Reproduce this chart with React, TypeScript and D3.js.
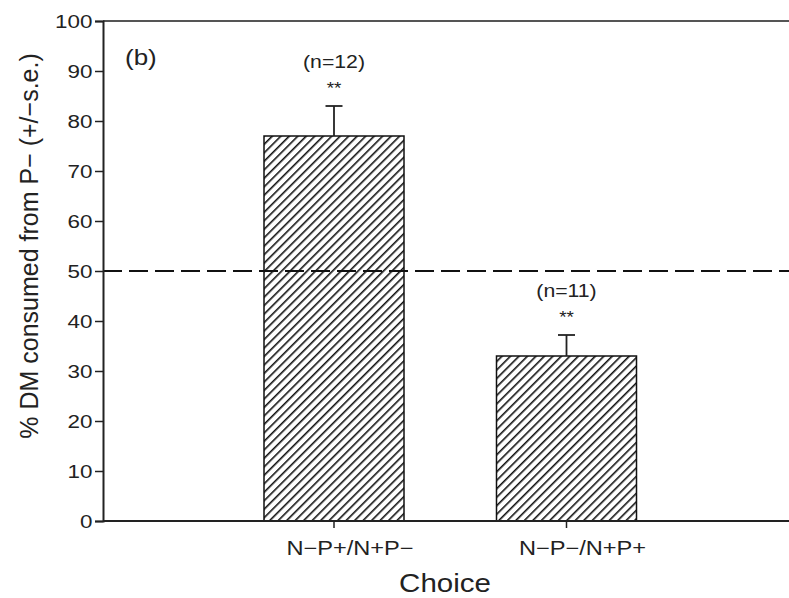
import { useRef, useEffect } from "react";
import * as d3 from "d3";

const categories = ["N\u2212P+/N+P\u2212", "N\u2212P\u2212/N+P+"];
const means = [77, 33];
const errors = [6, 4.2];
const nLabels = ["(n=12)", "(n=11)"];
const sigLabels = ["**", "**"];
const yTicks = [0, 10, 20, 30, 40, 50, 60, 70, 80, 90, 100];
const refLine = 50;

export default function App() {
  const svgRef = useRef<SVGSVGElement>(null);

  useEffect(() => {
    if (!svgRef.current) return;
    const svg = d3.select(svgRef.current);
    svg.selectAll("*").remove();

    const width = 789;
    const height = 598;
    const left = 103;
    const top = 21;
    const bottom = 521;
    const font = "Liberation Sans, Arial, sans-serif";
    const sx = 1.18; // the glyphs in the source are a bit wide

    const y = d3.scaleLinear().domain([0, 100]).range([bottom, top]);
    const x = d3.scalePoint<string>().domain(categories).range([334, 566.5]);
    const barW = 140;

    // horizontal text, widened a little
    const label = (tx: number, ty: number, txt: string, size: number, anchor = "middle") =>
      svg.append("text")
        .attr("transform", `translate(${tx},${ty}) scale(${sx},1)`)
        .attr("text-anchor", anchor)
        .attr("font-family", font)
        .attr("font-size", size)
        .attr("fill", "#222")
        .text(txt);

    const defs = svg.append("defs");
    const pat = defs.append("pattern")
      .attr("id", "hatch")
      .attr("patternUnits", "userSpaceOnUse")
      .attr("width", 6)
      .attr("height", 6)
      .attr("patternTransform", "rotate(45)");
    pat.append("rect").attr("width", 6).attr("height", 6).attr("fill", "#fff");
    pat.append("line")
      .attr("x1", 0).attr("y1", 0).attr("x2", 0).attr("y2", 6)
      .attr("stroke", "#111").attr("stroke-width", 3.2);

    svg.append("rect").attr("width", width).attr("height", height).attr("fill", "#fff");

    // bars
    svg.selectAll("rect.bar")
      .data(means)
      .join("rect")
      .attr("class", "bar")
      .attr("x", (_, i) => x(categories[i])! - barW / 2)
      .attr("y", d => y(d))
      .attr("width", barW)
      .attr("height", d => bottom - y(d))
      .attr("fill", "url(#hatch)")
      .attr("stroke", "#111")
      .attr("stroke-width", 1.5);

    // error bars + annotations
    means.forEach((m, i) => {
      const cx = x(categories[i])!;
      const yTop = y(m + errors[i]);
      svg.append("line")
        .attr("x1", cx).attr("x2", cx)
        .attr("y1", y(m)).attr("y2", yTop)
        .attr("stroke", "#222").attr("stroke-width", 1.8);
      svg.append("line")
        .attr("x1", cx - 8.5).attr("x2", cx + 8.5)
        .attr("y1", yTop).attr("y2", yTop)
        .attr("stroke", "#222").attr("stroke-width", 1.8);
      label(cx, yTop - 38, nLabels[i], 18);
      label(cx, yTop - 12, sigLabels[i], 16);
    });

    // dashed reference line
    svg.append("line")
      .attr("x1", left).attr("x2", width)
      .attr("y1", y(refLine)).attr("y2", y(refLine))
      .attr("stroke", "#111").attr("stroke-width", 2)
      .attr("stroke-dasharray", "19,7");

    // top frame line
    svg.append("line")
      .attr("x1", left).attr("x2", width)
      .attr("y1", top).attr("y2", top)
      .attr("stroke", "#555").attr("stroke-width", 2);

    // y axis
    const yAxis = svg.append("g")
      .attr("transform", `translate(${left},0)`)
      .call(d3.axisLeft(y).tickValues(yTicks).tickSize(8).tickPadding(1));
    yAxis.select(".domain").attr("stroke", "#222").attr("stroke-width", 2);
    yAxis.selectAll(".tick line").attr("stroke", "#222").attr("stroke-width", 1.5);
    yAxis.selectAll(".tick text")
      .attr("transform", `scale(${sx},1)`)
      .attr("font-family", font).attr("font-size", 19).attr("fill", "#222");

    // x axis
    svg.append("line")
      .attr("x1", left).attr("x2", width)
      .attr("y1", bottom).attr("y2", bottom)
      .attr("stroke", "#222").attr("stroke-width", 2);
    categories.forEach(c => {
      svg.append("line")
        .attr("x1", x(c)!).attr("x2", x(c)!)
        .attr("y1", bottom).attr("y2", bottom + 7)
        .attr("stroke", "#222").attr("stroke-width", 1.5);
      label(x(c)! + 16, 555, c, 20);
    });

    label(445, 592, "Choice", 25);

    svg.append("text")
      .attr("transform", `translate(38,246) rotate(-90)`)
      .attr("text-anchor", "middle")
      .attr("font-family", font).attr("font-size", 25)
      .attr("fill", "#222")
      .text("% DM consumed from P\u2212 (+/\u2212s.e.)");

    label(125, 65, "(b)", 22, "start");
  }, []);

  return (
    <svg
      ref={svgRef}
      width={789}
      height={598}
      style={{ position: "absolute", left: 0, top: 0 }}
    />
  );
}
